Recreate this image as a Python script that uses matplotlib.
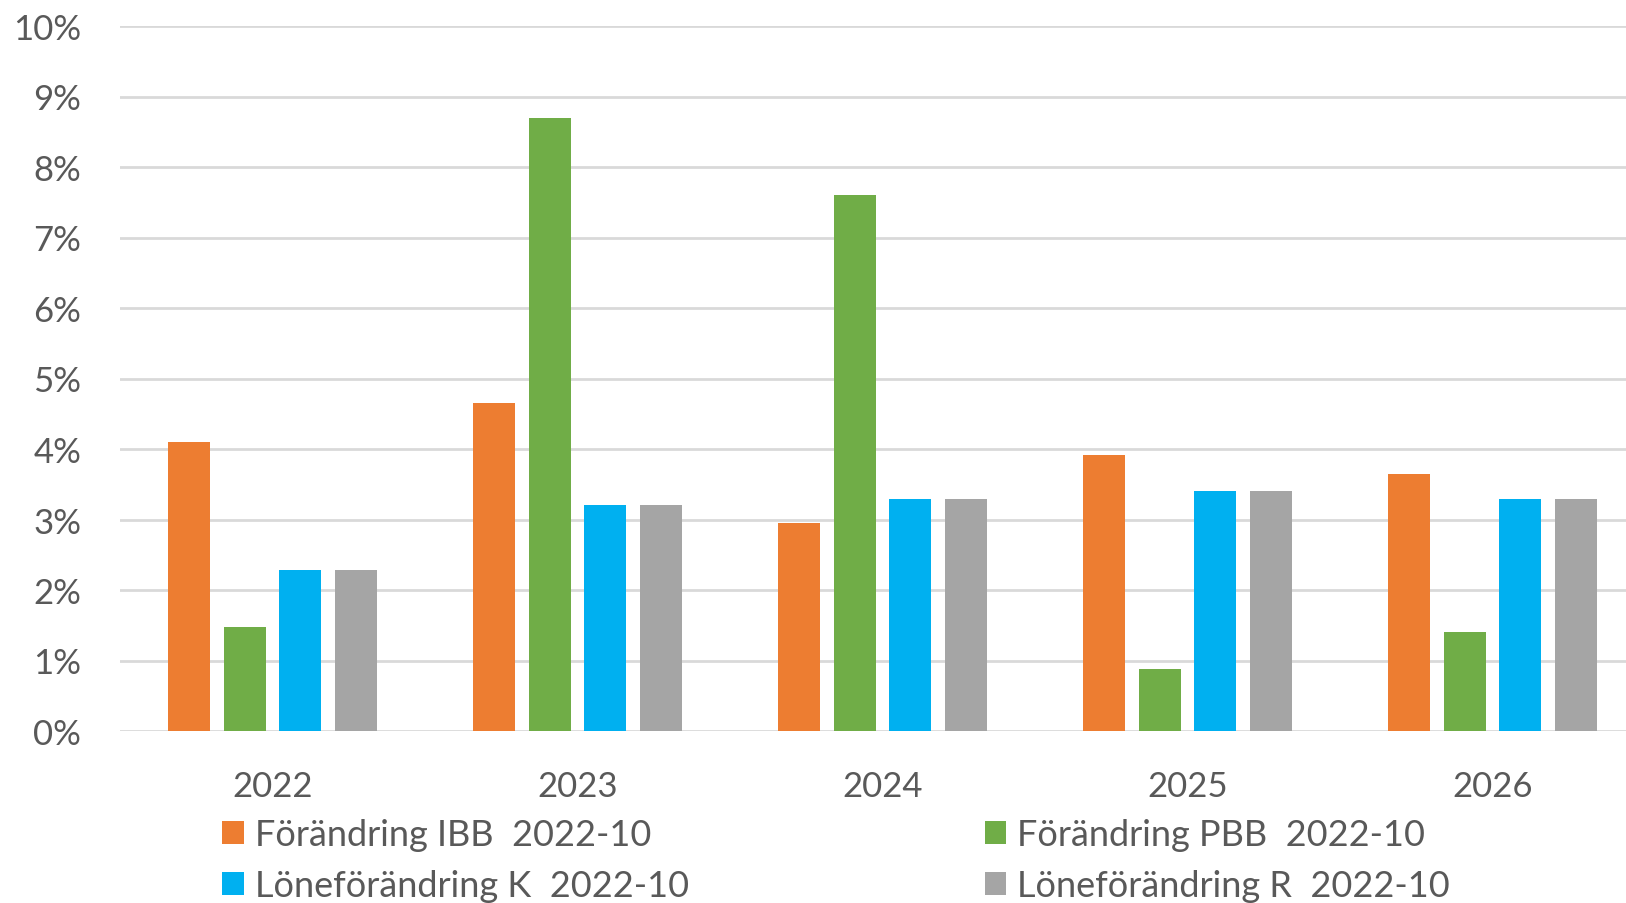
import numpy as np
import matplotlib
matplotlib.use('Agg')
from matplotlib import pyplot as plt
from matplotlib.ticker import PercentFormatter

years = ['2022', '2023', '2024', '2025', '2026']
labels = ['Förändring IBB  2022-10', 'Förändring PBB  2022-10',
          'Löneförändring K  2022-10', 'Löneförändring R  2022-10']
ibb = [4.10, 4.65, 2.95, 3.92, 3.65]
pbb = [1.47, 8.70, 7.60, 0.88, 1.40]
lon_k = [2.29, 3.20, 3.29, 3.40, 3.29]
lon_r = [2.29, 3.20, 3.29, 3.40, 3.29]
colors = ['#ED7D31', '#70AD47', '#00B0F0', '#A5A5A5']

plt.rcParams['font.family'] = ['Lato', 'DejaVu Sans']
text_c = '#595959'

fig = plt.figure(figsize=(16.26, 9.04), dpi=100)
# axes run past the right edge, like the cropped original
ax = fig.add_axes([120 / 1626, 1 - 732 / 904, 1525 / 1626, 705 / 904])

x = np.arange(len(years))
width = 0.139
pitch = 0.182
series = [ibb, pbb, lon_k, lon_r]
bars = []
for k, (vals, lab, col) in enumerate(zip(series, labels, colors)):
    b = ax.bar(x + (k - 1.5) * pitch, vals, width, color=col, label=lab, zorder=2)
    bars.append(b)

ax.set_xlim(-0.5, len(years) - 0.5)
ax.set_ylim(0, 10)
ax.set_yticks(np.arange(0, 11, 1))
ax.yaxis.set_major_formatter(PercentFormatter(decimals=0))
ax.set_xticks(x)
ax.set_xticklabels(years)
ax.tick_params(axis='both', length=0, labelsize=25, colors=text_c)
ax.tick_params(axis='y', pad=28)
ax.tick_params(axis='x', pad=28)
ax.grid(axis='y', color='#D9D9D9', linewidth=2, zorder=0)
for s in ax.spines.values():
    s.set_visible(False)

# legend fills column-wise, so reorder to read row by row
order = [0, 2, 1, 3]
leg = fig.legend([bars[i] for i in order], [labels[i] for i in order],
                 loc='upper left', bbox_to_anchor=(222 / 1626, 1 - 819 / 904),
                 ncol=2, frameon=False, fontsize=26, handlelength=0.6,
                 handleheight=0.6, handletextpad=0.3, columnspacing=8.2,
                 labelspacing=0.5, borderpad=0, borderaxespad=0)
for t in leg.get_texts():
    t.set_color(text_c)

plt.savefig('out.png', dpi=100)
plt.close()
